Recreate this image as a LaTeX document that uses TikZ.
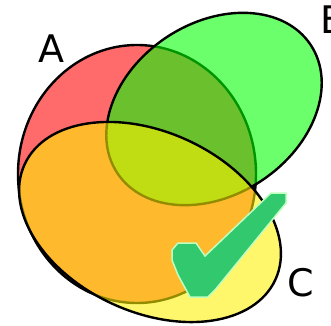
\documentclass[tikz,border=0pt]{standalone}
\usepackage{fontspec}
\setmainfont{DejaVu Sans}
\usetikzlibrary{shapes.geometric}

\tikzset{
  venn/.style={ellipse,draw=black,line width=2.4pt,fill opacity=0.58,draw opacity=1,inner sep=0pt},
  setlabel/.style={font=\fontsize{38}{40}\selectfont,inner sep=0pt}
}

\begin{document}
\begin{tikzpicture}[x=1pt,y=1pt]
\useasboundingbox (0,0) rectangle (331,325);
\node (setA) [venn,fill=red,minimum width=238pt,minimum height=258pt] at (137,151) {};
\node (setB) [venn,fill=green,minimum width=232pt,minimum height=172pt,rotate=33.6] at (214,216) {};
\node (setC) [venn,fill=yellow,minimum width=276pt,minimum height=180pt,rotate=-24.7] at (150,103) {};
\node (labelA) [setlabel] at (51.5,276) {A};
\node (labelB) [setlabel] at (334,305) {B};
\node (labelC) [setlabel] at (301,42) {C};
% check mark
\fill[draw=green!25!white,line width=1.5pt,fill={rgb,255:red,50;green,200;blue,110}]
  (172,75) -- (178,82) -- (196,82) -- (205,69) -- (271,132) -- (286,132) -- (286,122)
  -- (215,35) -- (208,28) -- (190,28) -- (178,50) -- (172,65) -- cycle;
\end{tikzpicture}
\end{document}
